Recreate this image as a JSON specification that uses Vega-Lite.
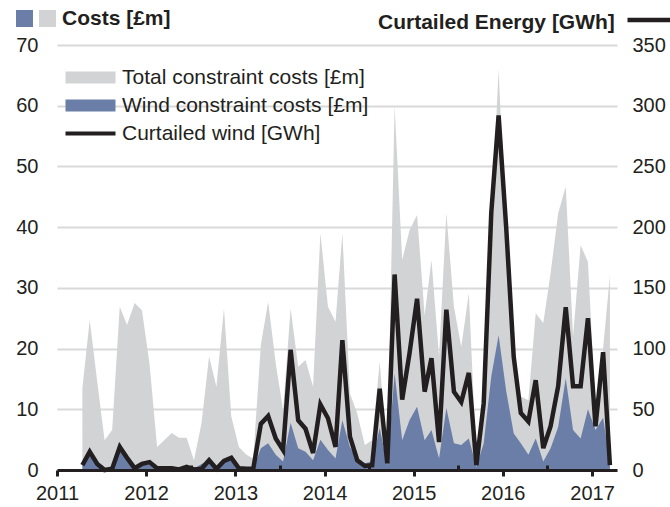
{
  "$schema": "https://vega.github.io/schema/vega-lite/v6.json",
  "width": 560,
  "height": 425,
  "autosize": {"type": "none"},
  "padding": {"left": 57, "top": 45, "right": 53, "bottom": 37},
  "background": "white",
  "config": {"view": {"stroke": null}, "font": "Liberation Sans"},
  "data": {"values": [
    {"date": "2011-04-15", "total": 13.5, "wind": 1, "curt": 4},
    {"date": "2011-05-15", "total": 24.7, "wind": 2.5, "curt": 15},
    {"date": "2011-06-15", "total": 14.5, "wind": 1, "curt": 5},
    {"date": "2011-07-15", "total": 4.9, "wind": 0, "curt": 0},
    {"date": "2011-08-15", "total": 6.6, "wind": 0.5, "curt": 1},
    {"date": "2011-09-15", "total": 26.9, "wind": 4.6, "curt": 19},
    {"date": "2011-10-15", "total": 23.9, "wind": 2, "curt": 10},
    {"date": "2011-11-15", "total": 27.5, "wind": 0.5, "curt": 1.5},
    {"date": "2011-12-15", "total": 26.3, "wind": 1, "curt": 5},
    {"date": "2012-01-15", "total": 17.5, "wind": 1.5, "curt": 6.5},
    {"date": "2012-02-15", "total": 3.8, "wind": 0.3, "curt": 1.5},
    {"date": "2012-03-15", "total": 4.9, "wind": 0.3, "curt": 1.5},
    {"date": "2012-04-15", "total": 6.1, "wind": 0.3, "curt": 1.5},
    {"date": "2012-05-15", "total": 5.3, "wind": 0.3, "curt": 0.5},
    {"date": "2012-06-15", "total": 5.3, "wind": 0.4, "curt": 2.5},
    {"date": "2012-07-15", "total": 1.6, "wind": 0.2, "curt": 0.5},
    {"date": "2012-08-15", "total": 7.7, "wind": 1, "curt": 1},
    {"date": "2012-09-15", "total": 18.7, "wind": 1.6, "curt": 8},
    {"date": "2012-10-15", "total": 13.7, "wind": 0.5, "curt": 1},
    {"date": "2012-11-15", "total": 26.6, "wind": 1.5, "curt": 7.5},
    {"date": "2012-12-15", "total": 8.8, "wind": 1.5, "curt": 10},
    {"date": "2013-01-15", "total": 3.8, "wind": 0.3, "curt": 1.4},
    {"date": "2013-02-15", "total": 2.5, "wind": 0.2, "curt": 1},
    {"date": "2013-03-15", "total": 1.9, "wind": 0.2, "curt": 1},
    {"date": "2013-04-15", "total": 20.6, "wind": 3.6, "curt": 38},
    {"date": "2013-05-15", "total": 27.7, "wind": 4.4, "curt": 44.5},
    {"date": "2013-06-15", "total": 17.6, "wind": 2.5, "curt": 26},
    {"date": "2013-07-15", "total": 9.9, "wind": 1.4, "curt": 16.5},
    {"date": "2013-08-15", "total": 26.6, "wind": 7.8, "curt": 99},
    {"date": "2013-09-15", "total": 17, "wind": 3.6, "curt": 41},
    {"date": "2013-10-15", "total": 18.1, "wind": 3, "curt": 34},
    {"date": "2013-11-15", "total": 13.7, "wind": 1.6, "curt": 14},
    {"date": "2013-12-15", "total": 39, "wind": 5, "curt": 54},
    {"date": "2014-01-15", "total": 26.9, "wind": 3.3, "curt": 42.6},
    {"date": "2014-02-15", "total": 24.4, "wind": 1.9, "curt": 19},
    {"date": "2014-03-15", "total": 39, "wind": 8.2, "curt": 107},
    {"date": "2014-04-15", "total": 12.6, "wind": 3.8, "curt": 27.5},
    {"date": "2014-05-15", "total": 9.3, "wind": 1.6, "curt": 8},
    {"date": "2014-06-15", "total": 4.1, "wind": 1.1, "curt": 3.3},
    {"date": "2014-07-15", "total": 4.9, "wind": 1.4, "curt": 4},
    {"date": "2014-08-15", "total": 17.8, "wind": 6.9, "curt": 67},
    {"date": "2014-09-15", "total": 2.2, "wind": 0.8, "curt": 5.5},
    {"date": "2014-10-15", "total": 60, "wind": 15.9, "curt": 161},
    {"date": "2014-11-15", "total": 34.6, "wind": 4.9, "curt": 58},
    {"date": "2014-12-15", "total": 39.5, "wind": 8.2, "curt": 96},
    {"date": "2015-01-15", "total": 42, "wind": 10.4, "curt": 141},
    {"date": "2015-02-15", "total": 25.5, "wind": 4.9, "curt": 64.5},
    {"date": "2015-03-15", "total": 34.6, "wind": 6.6, "curt": 92},
    {"date": "2015-04-15", "total": 18.7, "wind": 1.9, "curt": 23},
    {"date": "2015-05-15", "total": 42.3, "wind": 10.2, "curt": 132},
    {"date": "2015-06-15", "total": 26.9, "wind": 4.4, "curt": 64.5},
    {"date": "2015-07-15", "total": 20.3, "wind": 4.1, "curt": 56},
    {"date": "2015-08-15", "total": 29.1, "wind": 5.2, "curt": 80},
    {"date": "2015-09-15", "total": 1.6, "wind": 0.5, "curt": 4},
    {"date": "2015-10-15", "total": 15, "wind": 4.4, "curt": 55},
    {"date": "2015-11-15", "total": 40, "wind": 15.4, "curt": 212},
    {"date": "2015-12-15", "total": 66, "wind": 22.2, "curt": 292},
    {"date": "2016-01-15", "total": 38, "wind": 13, "curt": 200},
    {"date": "2016-02-15", "total": 18, "wind": 6, "curt": 93},
    {"date": "2016-03-15", "total": 12.1, "wind": 4.4, "curt": 47},
    {"date": "2016-04-15", "total": 11.5, "wind": 2.5, "curt": 40},
    {"date": "2016-05-15", "total": 25.8, "wind": 5.2, "curt": 74},
    {"date": "2016-06-15", "total": 24.2, "wind": 1.4, "curt": 18},
    {"date": "2016-07-15", "total": 32.4, "wind": 3.6, "curt": 36},
    {"date": "2016-08-15", "total": 42.3, "wind": 7.1, "curt": 69},
    {"date": "2016-09-15", "total": 46.7, "wind": 15.1, "curt": 134},
    {"date": "2016-10-15", "total": 22, "wind": 6.6, "curt": 69},
    {"date": "2016-11-15", "total": 37, "wind": 5.2, "curt": 69},
    {"date": "2016-12-15", "total": 34.3, "wind": 10, "curt": 125},
    {"date": "2017-01-15", "total": 10, "wind": 6.6, "curt": 36},
    {"date": "2017-02-15", "total": 20, "wind": 8.6, "curt": 97},
    {"date": "2017-03-15", "total": 32, "wind": 1.1, "curt": 4}
  ]},
  "layer": [
    {
      "layer": [
        {
          "mark": {"type": "area", "interpolate": "linear"},
          "encoding": {
            "x": {"field": "date", "type": "temporal",
              "scale": {"type": "utc", "domain": [{"year": 2011, "month": 1, "date": 1, "utc": true}, {"year": 2017, "month": 4, "date": 13, "utc": true}]},
              "axis": {
                "values": [
                  {"year": 2011, "month": 1, "date": 1, "utc": true}, {"year": 2011, "month": 4, "date": 1, "utc": true}, {"year": 2011, "month": 7, "date": 1, "utc": true}, {"year": 2011, "month": 10, "date": 1, "utc": true},
                  {"year": 2012, "month": 1, "date": 1, "utc": true}, {"year": 2012, "month": 4, "date": 1, "utc": true}, {"year": 2012, "month": 7, "date": 1, "utc": true}, {"year": 2012, "month": 10, "date": 1, "utc": true},
                  {"year": 2013, "month": 1, "date": 1, "utc": true}, {"year": 2013, "month": 4, "date": 1, "utc": true}, {"year": 2013, "month": 7, "date": 1, "utc": true}, {"year": 2013, "month": 10, "date": 1, "utc": true},
                  {"year": 2014, "month": 1, "date": 1, "utc": true}, {"year": 2014, "month": 4, "date": 1, "utc": true}, {"year": 2014, "month": 7, "date": 1, "utc": true}, {"year": 2014, "month": 10, "date": 1, "utc": true},
                  {"year": 2015, "month": 1, "date": 1, "utc": true}, {"year": 2015, "month": 4, "date": 1, "utc": true}, {"year": 2015, "month": 7, "date": 1, "utc": true}, {"year": 2015, "month": 10, "date": 1, "utc": true},
                  {"year": 2016, "month": 1, "date": 1, "utc": true}, {"year": 2016, "month": 4, "date": 1, "utc": true}, {"year": 2016, "month": 7, "date": 1, "utc": true}, {"year": 2016, "month": 10, "date": 1, "utc": true},
                  {"year": 2017, "month": 1, "date": 1, "utc": true}, {"year": 2017, "month": 4, "date": 1, "utc": true}
                ],
                "labelExpr": "utcmonth(datum.value) == 0 ? utcFormat(datum.value, '%Y') : ''",
                "labelOverlap": false, "labelFlush": false,
                "grid": false, "title": null,
                "domainColor": "#231f20", "domainWidth": 3,
                "tickColor": "#231f20", "tickWidth": 3,
                "tickSize": {"condition": {"test": "utcmonth(datum.value) == 0", "value": 6}, "value": -5},
                "labelFontSize": 20, "labelColor": "#231f20", "labelPadding": 7, "zindex": 1
              }
            },
            "y": {"field": "total", "type": "quantitative",
              "scale": {"domain": [0, 70], "nice": false},
              "axis": {"orient": "left", "values": [0, 10, 20, 30, 40, 50, 60, 70], "grid": true, "gridColor": "#d9d9d9", "gridWidth": 2, "ticks": false, "domain": false, "labelFontSize": 20, "labelColor": "#231f20", "labelPadding": 19, "title": null}
            },
            "color": {"datum": "Total constraint costs [£m]",
              "scale": {"domain": ["Total constraint costs [£m]", "Wind constraint costs [£m]", "Curtailed wind [GWh]"], "range": ["#d1d3d4", "#6a7ea8", "#231f20"]},
              "legend": {"orient": "none", "legendX": 8, "legendY": 22, "title": null, "direction": "vertical", "symbolType": "square", "symbolSize": 400, "labelFontSize": 21, "labelColor": "#231f20", "labelOffset": 36, "rowPadding": 6, "labelLimit": 500,
                "encode": {"symbols": {"update": {"shape": {"signal": "datum.value === 'Curtailed wind [GWh]' ? 'M-1,-0.2H4V0.2H-1Z' : 'M-1,-0.6H4V0.6H-1Z'"}, "fill": {"signal": "scale('color', datum.value)"}, "stroke": {"value": "transparent"}, "strokeWidth": {"value": 0}, "opacity": {"value": 1}}}}}
            }
          }
        },
        {
          "mark": {"type": "area", "interpolate": "linear"},
          "encoding": {
            "x": {"field": "date", "type": "temporal"},
            "y": {"field": "wind", "type": "quantitative"},
            "color": {"datum": "Wind constraint costs [£m]"}
          }
        }
      ]
    },
    {
      "mark": {"type": "line", "strokeWidth": 4.5},
      "encoding": {
        "x": {"field": "date", "type": "temporal"},
        "y": {"field": "curt", "type": "quantitative",
          "scale": {"domain": [0, 350], "nice": false},
          "axis": {"orient": "right", "values": [0, 50, 100, 150, 200, 250, 300, 350], "grid": false, "ticks": false, "domain": false, "labelFontSize": 20, "labelColor": "#231f20", "labelPadding": 15, "title": null}
        },
        "color": {"datum": "Curtailed wind [GWh]"}
      }
    },
    {
      "data": {"values": [{"k": 1}]},
      "mark": {"type": "square", "opacity": 0},
      "encoding": {
        "fill": {"datum": "w", "scale": {"domain": ["w", "t"], "range": ["#6a7ea8", "#d1d3d4"]},
          "legend": {"orient": "none", "legendX": -41, "legendY": -35, "direction": "horizontal", "title": "Costs [£m]", "titleOrient": "right", "titleFontSize": 21, "titleFontWeight": "bold", "titleColor": "#231f20", "titlePadding": 6, "symbolType": "square", "symbolSize": 289, "symbolOpacity": 1, "symbolStrokeWidth": 0, "labelExpr": "''", "labelFontSize": 1, "labelOffset": 0, "columnPadding": 6,
            "encode": {"symbols": {"update": {"opacity": {"value": 1}, "fill": {"signal": "scale('fill', datum.value)"}}}}}
        }
      }
    },
    {
      "data": {"values": [{"k": 1}]},
      "mark": {"type": "point", "opacity": 0},
      "encoding": {
        "stroke": {"datum": "c", "scale": {"domain": ["c"], "range": ["#231f20"]},
          "legend": {"orient": "none", "legendX": 321, "legendY": -50, "title": "Curtailed Energy [GWh]", "titleOrient": "left", "titleAnchor": "middle", "titleBaseline": "top", "titleLimit": 400, "titleFontSize": 21, "titleFontWeight": "bold", "titleColor": "#231f20", "titlePadding": 10, "symbolType": "stroke", "symbolSize": 2025, "symbolStrokeWidth": 4.5, "symbolStrokeColor": "#231f20", "symbolOpacity": 1, "labelExpr": "''", "labelFontSize": 1, "labelOffset": 0,
            "encode": {"symbols": {"update": {"opacity": {"value": 1}, "stroke": {"value": "#231f20"}, "strokeWidth": {"value": 4.5}}}}}
        }
      }
    }
  ],
  "resolve": {"scale": {"y": "independent"}}
}
